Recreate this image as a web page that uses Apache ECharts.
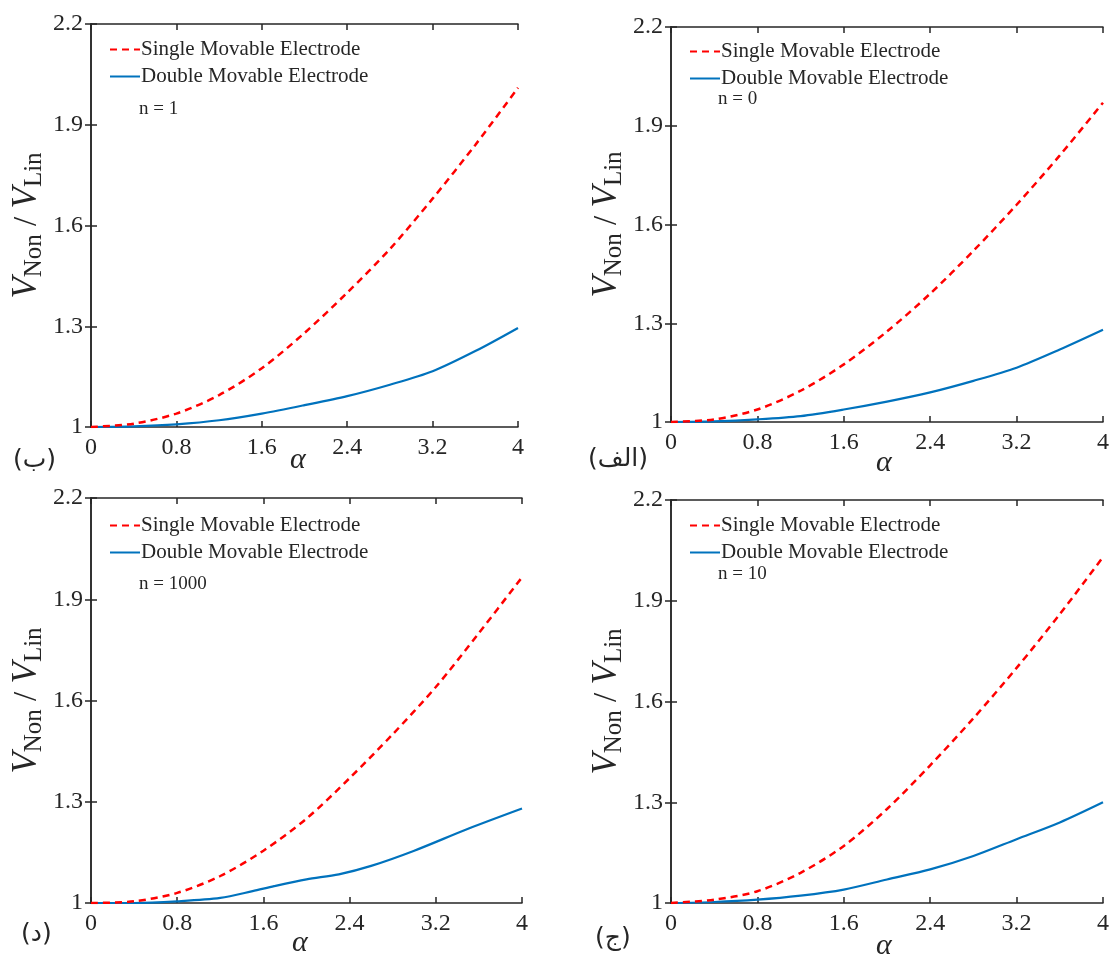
<!DOCTYPE html>
<html>
<head>
<meta charset="utf-8">
<script src="https://cdn.jsdelivr.net/npm/echarts@6/dist/echarts.min.js"></script>
<style>
  html, body { margin: 0; padding: 0; background: #fff; }
  #chart { width: 1112px; height: 961px; }
</style>
</head>
<body>
<div id="chart"></div>
<script>
// alpha sample points
const alpha = [0, 0.4, 0.8, 1.2, 1.6, 2.0, 2.4, 2.8, 3.2, 3.6, 4.0]
const alphaN1000Double = [0, 0.4, 0.8, 1.2, 1.5, 1.7, 2.0, 2.3, 2.6, 3.0, 3.5, 4.0]

const xTicks = ['0', '0.8', '1.6', '2.4', '3.2', '4']
const yTicks = ['1', '1.3', '1.6', '1.9', '2.2']

// n = 1
const singleN1 = [1.0, 1.01, 1.04, 1.095, 1.175, 1.28, 1.40, 1.53, 1.68, 1.84, 2.01]
const doubleN1 = [1.0, 1.002, 1.008, 1.02, 1.04, 1.065, 1.092, 1.126, 1.166, 1.226, 1.295]
// n = 0
const singleN0 = [1.0, 1.008, 1.038, 1.095, 1.175, 1.275, 1.39, 1.52, 1.66, 1.81, 1.97]
const doubleN0 = [1.0, 1.002, 1.008, 1.018, 1.038, 1.062, 1.09, 1.125, 1.165, 1.22, 1.28]
// n = 1000
const singleN1000 = [1.0, 1.005, 1.03, 1.08, 1.155, 1.25, 1.37, 1.50, 1.64, 1.80, 1.965]
const doubleN1000 = [1.0, 1.0, 1.005, 1.015, 1.035, 1.05, 1.07, 1.085, 1.11, 1.155, 1.22, 1.28]
// n = 10
const singleN10 = [1.0, 1.01, 1.035, 1.09, 1.17, 1.28, 1.41, 1.55, 1.70, 1.86, 2.03]
const doubleN10 = [1.0, 1.003, 1.01, 1.022, 1.04, 1.07, 1.10, 1.14, 1.19, 1.24, 1.30]

const SINGLE = 'Single Movable Electrode'
const DOUBLE = 'Double Movable Electrode'
const FONT = '"Liberation Serif", "Times New Roman", serif'
const INK = '#262626'
const RED = '#ff0000'
const BLUE = '#0072bd'

const panels = [
  { grid: { left: 91, top: 24, width: 427, height: 403 }, single: [alpha, singleN1], dbl: [alpha, doubleN1],
    n: 'n = 1', nPos: [139, 110], tag: '(ب)', tagPos: [13, 466], aPos: [298, 462], legendTop: 34, legendLeft: 104 },
  { grid: { left: 671, top: 27, width: 432, height: 395 }, single: [alpha, singleN0], dbl: [alpha, doubleN0],
    n: 'n = 0', nPos: [718, 100], tag: '(الف)', tagPos: [588, 465], aPos: [884, 465], legendTop: 36, legendLeft: 684 },
  { grid: { left: 91, top: 498, width: 431, height: 405 }, single: [alpha, singleN1000], dbl: [alphaN1000Double, doubleN1000],
    n: 'n = 1000', nPos: [139, 585], tag: '(د)', tagPos: [21, 940], aPos: [300, 945], legendTop: 510, legendLeft: 104 },
  { grid: { left: 671, top: 500, width: 432, height: 403 }, single: [alpha, singleN10], dbl: [alpha, doubleN10],
    n: 'n = 10', nPos: [718, 575], tag: '(ج)', tagPos: [595, 944], aPos: [884, 948], legendTop: 510, legendLeft: 684 }
]

const zip = (xs, ys) => xs.map((x, i) => [x, ys[i]])

const axisLine = { show: true, lineStyle: { color: INK, width: 1.5 } }
const axisTick = { show: true, inside: true, length: 6, lineStyle: { color: INK, width: 1.5 } }

const grid = [], xAxis = [], yAxis = [], series = [], legend = [], graphic = []

panels.forEach((p, i) => {
  grid.push(p.grid)
  xAxis.push({
    type: 'value', gridIndex: i, min: 0, max: 4, interval: 0.8,
    axisLine, axisTick, splitLine: { show: false },
    axisLabel: { color: INK, fontFamily: FONT, fontSize: 24, margin: 9,
      formatter: v => xTicks[Math.round(v / 0.8)] }
  })
  xAxis.push({
    type: 'value', gridIndex: i, position: 'top', min: 0, max: 4, interval: 0.8,
    axisLine, axisTick, axisLabel: { show: false }, splitLine: { show: false }
  })
  yAxis.push({
    type: 'value', gridIndex: i, min: 1, max: 2.2, interval: 0.3,
    axisLine, axisTick, splitLine: { show: false },
    axisLabel: { color: INK, fontFamily: FONT, fontSize: 24, margin: 8,
      formatter: v => yTicks[Math.round((v - 1) / 0.3)] },
    name: '{v|V}{s|Non}{t| / }{v|V}{s|Lin}',
    nameLocation: 'middle', nameRotate: 90, nameGap: 46,
    nameTextStyle: {
      rich: {
        v: { fontFamily: FONT, fontStyle: 'italic', fontSize: 35, color: INK, lineHeight: 36 },
        s: { fontFamily: FONT, fontSize: 25, color: INK, lineHeight: 24, padding: [14, 0, 0, 0] },
        t: { fontFamily: FONT, fontSize: 33, color: INK, lineHeight: 36 }
      }
    }
  })
  yAxis.push({
    type: 'value', gridIndex: i, position: 'right', min: 1, max: 2.2, interval: 0.3,
    axisLine, axisTick, axisLabel: { show: false }, splitLine: { show: false }
  })
  series.push({
    name: SINGLE, type: 'line', xAxisIndex: 2 * i, yAxisIndex: 2 * i,
    data: zip(p.single[0], p.single[1]), smooth: 0.3, symbol: 'none',
    lineStyle: { color: RED, width: 2.5, type: [7, 5] }, itemStyle: { color: RED }, z: 3
  })
  series.push({
    name: DOUBLE, type: 'line', xAxisIndex: 2 * i, yAxisIndex: 2 * i,
    data: zip(p.dbl[0], p.dbl[1]), smooth: 0.3, symbol: 'none',
    lineStyle: { color: BLUE, width: 2.2 }, itemStyle: { color: BLUE }, z: 2
  })
  legend.push({
    orient: 'vertical', left: p.legendLeft, top: p.legendTop, itemGap: 6,
    itemWidth: 30, itemHeight: 14, selectedMode: false,
    itemStyle: { opacity: 0 },
    data: [SINGLE, DOUBLE],
    textStyle: { fontFamily: FONT, fontSize: 21, color: INK, padding: [0, 0, 0, -4] }
  })
  graphic.push({
    type: 'text', left: p.nPos[0], top: p.nPos[1] - 10,
    style: { text: p.n, font: '19px ' + FONT, fill: INK }
  })
  graphic.push({
    type: 'text', left: p.aPos[0] - 8, top: p.aPos[1] - 17,
    style: { text: 'α', font: 'italic 30px ' + FONT, fill: INK }
  })
  graphic.push({
    type: 'text', left: p.tagPos[0], top: p.tagPos[1] - 18,
    style: { text: p.tag, font: '25px "DejaVu Sans", "Noto Sans", serif', fill: INK }
  })
})

const chart = echarts.init(document.getElementById('chart'), null, { renderer: 'canvas' })
chart.setOption({
  backgroundColor: '#ffffff',
  animation: false,
  grid, xAxis, yAxis, series, legend, graphic
})
</script>
</body>
</html>
